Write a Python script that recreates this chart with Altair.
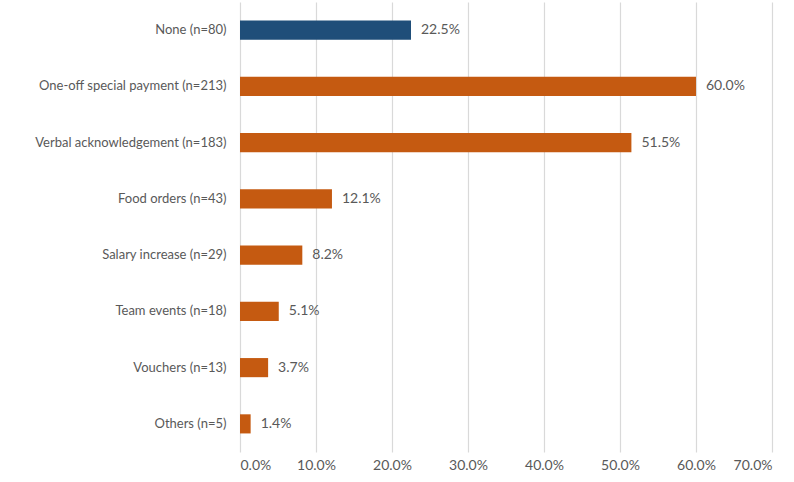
import altair as alt
import pandas as pd

categories = ["None (n=80)", "One-off special payment (n=213)", "Verbal acknowledgement (n=183)",
              "Food orders (n=43)", "Salary increase (n=29)", "Team events (n=18)",
              "Vouchers (n=13)", "Others (n=5)"]
shares = [0.225, 0.600, 0.515, 0.121, 0.082, 0.051, 0.037, 0.014]
groups = ["none", "other", "other", "other", "other", "other", "other", "other"]
x_ticks = [0.0, 0.1, 0.2, 0.3, 0.4, 0.5, 0.6, 0.7]

df = pd.DataFrame({"cat": categories, "share": shares, "grp": groups})

FONT = "Lato"
TXT = "#595959"

y_enc = alt.Y("cat:N", sort=categories, title=None,
              scale=alt.Scale(paddingInner=0.66, paddingOuter=0.33),
              axis=alt.Axis(domain=False, ticks=False, grid=False, labelPadding=14,
                            labelFont=FONT, labelFontSize=13, labelColor=TXT, labelLimit=300))
x_enc = alt.X("share:Q", title=None,
              scale=alt.Scale(domain=[0, 0.7], nice=False),
              axis=alt.Axis(values=x_ticks, format=".1%", domain=False, ticks=False,
                            grid=True, gridColor="#d9d9d9", gridWidth=1.2,
                            labelFont=FONT, labelFontSize=14, labelColor=TXT, labelPadding=6))

bars = alt.Chart(df).mark_bar().encode(
    x=x_enc, y=y_enc,
    color=alt.Color("grp:N", scale=alt.Scale(domain=["none", "other"], range=["#1f4e79", "#c55a11"]), legend=None),
)
labels = alt.Chart(df).mark_text(align="left", baseline="middle", dx=10, font=FONT, fontSize=14, color=TXT).encode(
    x="share:Q", y=alt.Y("cat:N", sort=categories), text=alt.Text("share:Q", format=".1%"),
)

chart = (bars + labels).properties(
    width=532, height=450,
    autosize=alt.AutoSizeParams(type="none"),
    padding={"left": 240, "top": 2, "right": 22, "bottom": 30},
    background="white",
).configure_view(stroke=None)

chart.save("out.html", embed_options={"renderer": "svg", "actions": False})
